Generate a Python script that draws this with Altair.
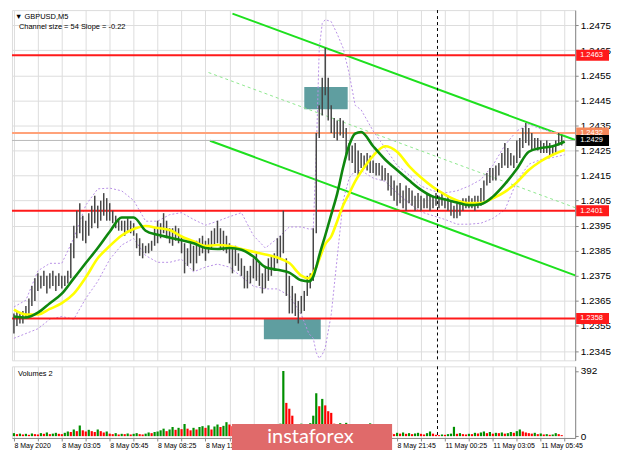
import altair as alt
import pandas as pd

# ---------------- data ----------------
# x = index of 5-minute bars counted from 8 May 2020 00:25 (one entry per two bars)
time_labels = ["8 May 2020", "8 May 03:05", "8 May 05:45", "8 May 08:25", "8 May 11:05",
               "8 May 13:45", "8 May 16:25", "8 May 19:05", "8 May 21:45",
               "11 May 00:25", "11 May 03:05", "11 May 05:45"]
# labels fully covered by the watermark in the picture
covered_labels = ["8 May 13:45", "8 May 16:25", "8 May 19:05"]
price_ticks = [1.2345, 1.2355, 1.2365, 1.2375, 1.2385, 1.2395, 1.2405,
               1.2415, 1.2425, 1.2435, 1.2445, 1.2455, 1.2465, 1.2475]

bar_high_pips = [
    12360, 12361, 12360, 12361, 12363, 12366, 12371, 12374, 12376, 12375,
    12377, 12375, 12376, 12377, 12375, 12376, 12375, 12375, 12377, 12388,
    12395, 12401, 12404, 12399, 12397, 12400, 12403, 12407, 12403, 12405,
    12408, 12406, 12404, 12401, 12399, 12398, 12397, 12397, 12398, 12397,
    12396, 12392, 12390, 12388, 12387, 12388, 12389, 12394, 12397, 12396,
    12400, 12397, 12394, 12394, 12395, 12394, 12391, 12388, 12386, 12388,
    12387, 12389, 12390, 12391, 12389, 12390, 12393, 12394, 12397, 12394,
    12393, 12391, 12388, 12386, 12387, 12384, 12382, 12379, 12377, 12379,
    12382, 12384, 12380, 12376, 12379, 12382, 12383, 12384, 12390, 12391,
    12401, 12382, 12375, 12371, 12368, 12365, 12367, 12369, 12375, 12376,
    12394, 12432, 12443, 12454, 12466, 12454, 12443, 12438, 12437, 12438,
    12437, 12434, 12428, 12427, 12428, 12425, 12424, 12423, 12424, 12423,
    12421, 12420, 12420, 12419, 12418, 12416, 12415, 12413, 12411, 12412,
    12409, 12411, 12410, 12409, 12407, 12408, 12407, 12406, 12408, 12407,
    12407, 12408, 12407, 12408, 12406, 12407, 12405, 12403, 12404, 12405,
    12406, 12406, 12407, 12406, 12407, 12407, 12410, 12413, 12416, 12418,
    12418, 12419, 12420, 12424, 12428, 12426, 12424, 12423, 12429, 12430,
    12434, 12436, 12434, 12432, 12430, 12430, 12429, 12428, 12429, 12428,
    12427, 12429, 12432, 12431]
bar_low_pips = [
    12352, 12355, 12356, 12356, 12358, 12359, 12363, 12365, 12369, 12370,
    12371, 12368, 12370, 12371, 12369, 12371, 12370, 12371, 12372, 12374,
    12382, 12390, 12392, 12389, 12388, 12391, 12394, 12396, 12394, 12397,
    12399, 12397, 12397, 12396, 12394, 12393, 12393, 12391, 12393, 12392,
    12391, 12386, 12383, 12382, 12384, 12384, 12385, 12387, 12388, 12390,
    12392, 12390, 12388, 12387, 12389, 12388, 12384, 12376, 12379, 12380,
    12377, 12380, 12383, 12384, 12381, 12384, 12386, 12387, 12388, 12386,
    12385, 12384, 12380, 12376, 12379, 12377, 12375, 12370, 12370, 12372,
    12374, 12373, 12371, 12368, 12370, 12373, 12375, 12377, 12380, 12382,
    12384, 12367, 12360, 12360, 12359, 12356, 12360, 12361, 12367, 12370,
    12373, 12392, 12430, 12439, 12447, 12437, 12432, 12430, 12429, 12431,
    12430, 12423, 12421, 12420, 12416, 12415, 12418, 12418, 12417, 12416,
    12416, 12415, 12415, 12413, 12413, 12409, 12407, 12405, 12403, 12404,
    12402, 12401, 12404, 12403, 12401, 12402, 12401, 12402, 12402, 12401,
    12402, 12403, 12402, 12403, 12402, 12401, 12399, 12398, 12398, 12399,
    12401, 12402, 12402, 12402, 12401, 12402, 12403, 12405, 12411, 12412,
    12413, 12413, 12415, 12418, 12419, 12418, 12419, 12418, 12420, 12422,
    12426, 12428, 12427, 12425, 12426, 12425, 12424, 12424, 12424, 12423,
    12423, 12424, 12427, 12427]
volume = [
    18, 12, 15, 10, 14, 8, 16, 12, 10, 18, 14, 22, 12, 15, 20, 14,
    12, 20, 28, 25, 40, 30, 64, 35, 28, 38, 30, 25, 40, 30, 22, 28,
    15, 12, 18, 10, 14, 12, 16, 10, 14, 18, 12, 10, 15, 22, 18, 25,
    28, 35, 45, 30, 40, 55, 38, 50, 42, 73, 45, 35, 50, 40, 55, 60,
    50, 65, 40, 58, 70, 55, 62, 84, 70, 60,
    50, 45, 55, 40, 48, 60, 45, 52, 70, 55, 73, 60, 50, 65, 58, 75,
    392, 200, 165, 123, 70, 65, 75, 70, 60, 78,
    123, 258, 180, 224, 185, 150, 140, 75, 60, 78,
    55, 80, 50, 45, 40, 48, 35, 42, 38, 77,
    35, 30, 28, 25, 22, 20,
    18, 12, 20, 15, 22, 14, 18, 12, 16, 20,
    14, 10, 18, 28, 15, 8, 6, 10, 8, 12,
    15, 56, 14, 18, 12, 10, 14, 12, 20, 16,
    22, 28, 18, 25, 15, 20, 18, 22, 15, 18,
    25, 20, 30, 40, 28, 22, 18, 15, 20, 12,
    16, 10, 12, 8, 10, 18, 12, 6]

ma_idx = [0, 8, 16, 24, 32, 40, 48, 56, 64, 72, 80, 88, 96, 104, 112, 120, 128, 136,
          144, 152, 160, 168, 176, 184, 192, 197, 200, 202, 204, 208, 212, 216, 220,
          224, 228, 232, 240, 248, 256, 264, 272, 280, 288, 296, 304, 312, 320, 328,
          336, 344, 352, 360, 368]
ma_green_pips = [
    12358.8, 12358.4, 12360.3, 12364.1, 12367.9, 12374.0, 12380.1, 12386.1, 12392.6,
    12398.3, 12398.3, 12393.0, 12391.4, 12390.3, 12389.2, 12388.0, 12386.1, 12385.7,
    12386.1, 12385.4, 12382.7, 12378.5, 12377.4, 12376.3, 12373.2,
    12372.8, 12374.7, 12378.5, 12383.1, 12391.1, 12399.4, 12407.8, 12418.4, 12427.1,
    12431.7, 12432.4,
    12426.7, 12421.4, 12417.2, 12413.1, 12409.3, 12406.6, 12405.5, 12404.3, 12403.2,
    12403.6, 12406.6, 12411.6, 12417.6, 12424.5, 12426.0, 12426.7, 12428.6]
ma_yellow_pips = [
    12361.5, 12359.6, 12359.6, 12361.8, 12364.1, 12367.9, 12374.4, 12382.0, 12386.9,
    12391.1, 12393.7, 12394.9, 12394.1, 12393.3, 12390.7, 12388.8, 12386.9, 12387.3,
    12386.9, 12385.7, 12384.6, 12383.5, 12382.3, 12380.1, 12375.1,
    12374.0, 12376.3, 12378.5, 12381.6, 12387.6, 12390.7, 12396.8, 12403.2, 12407.8,
    12412.7, 12416.5,
    12422.9, 12426.7, 12424.5, 12418.8, 12414.2, 12410.4, 12407.4, 12405.1, 12404.0,
    12404.0, 12405.9, 12408.5, 12412.3, 12417.2, 12420.7, 12423.3, 12425.2]

band_idx = [0, 8, 16, 24, 32, 40, 48, 56, 64, 72, 80, 88, 96, 104, 112, 120, 128, 136,
            144, 152, 160, 168, 176, 184, 192, 197, 200, 202, 204, 206, 208, 212, 216,
            220, 224, 228, 232, 240, 248, 256, 264, 272, 280, 288, 296, 304, 312, 320,
            328, 336, 344, 352, 360, 368]
band_upper_pips = [
    12362.6, 12365.3, 12377.0, 12380.0, 12380.0, 12390.0, 12403.2, 12409.7, 12410.0,
    12408.9, 12405.1, 12396.8, 12396.8, 12399.4, 12400.2, 12397.5, 12395.2, 12396.8,
    12398.6, 12400.2, 12391.1, 12386.1, 12389.9, 12394.5, 12394.5,
    12393.7, 12393.7, 12424.1, 12465.8, 12475.7, 12477.2, 12476.4, 12471.5, 12465.8,
    12455.6, 12443.0, 12441.2,
    12432.8, 12426.0, 12419.1, 12415.3, 12410.8, 12408.9, 12408.1, 12408.9, 12410.8,
    12413.4, 12419.1, 12427.1, 12432.8, 12435.5, 12433.6, 12432.4, 12431.7]
band_lower_pips = [
    12350.1, 12352.0, 12353.9, 12357.7, 12358.8, 12357.7, 12366.0, 12372.8, 12381.6,
    12387.3, 12389.9, 12383.1, 12380.4, 12380.4, 12381.6, 12376.6, 12378.5, 12379.7,
    12378.5, 12374.7, 12370.9, 12369.8, 12369.8, 12367.1, 12359.6,
    12352.0, 12350.1, 12344.4, 12342.1, 12343.6, 12346.3, 12359.6, 12382.3, 12405.1,
    12414.0, 12417.0, 12417.0,
    12414.0, 12412.7, 12408.1, 12404.0, 12400.5, 12399.0, 12397.5, 12395.6, 12395.6,
    12396.0, 12397.9, 12401.3, 12412.7, 12419.5, 12421.4, 12422.2, 12423.3]

# regression channel (size 54, slope -0.22): start / end points
channel_upper = {"idx": [146, 375], "price": [1.24796, 1.24292]}
channel_mid = {"idx": [130, 375], "price": [1.24561, 1.24022]}
channel_lower = {"idx": [131, 375], "price": [1.24289, 1.23752]}

# highlighted zones
zone_idx0 = [194, 167]
zone_idx1 = [223, 205]
zone_p0 = [1.24415, 1.23497]
zone_p1 = [1.24503, 1.23580]

# horizontal levels
level_price = [1.2463, 1.2401, 1.2358, 1.2432, 1.2429]
level_color = ["#ff1a1a", "#ff1a1a", "#ff1a1a", "#ffa27a", "#b8b8b8"]
level_width = [2, 2, 2, 2, 1]

# price tags on the right axis
tag_label = ["1.2463", "1.2432", "1.2429", "1.2401", "1.2358"]
tag_price = [1.2463, 1.2432, 1.2429, 1.2401, 1.2358]
tag_color = ["#ff1a1a", "#f5875a", "#000000", "#ff1a1a", "#ff1a1a"]

day_separator_idx = [283]

# ---------------- chart ----------------
W, H, VH = 566, 352, 72
FONT = "Liberation Sans"

n = len(bar_high_pips)
cdf = pd.DataFrame({
    "idx": [2 * k for k in range(n)],
    "high": [v / 10000 for v in bar_high_pips],
    "low": [v / 10000 for v in bar_low_pips],
})
vdf = pd.DataFrame({
    "idx": [2 * k for k in range(len(volume))],
    "vol": volume,
    "dir": ["up" if k == 0 or volume[k] >= volume[k - 1] else "down" for k in range(len(volume))],
    "zero": [0] * len(volume),
})
ma_df = pd.DataFrame({"idx": ma_idx,
                      "green": [v / 10000 for v in ma_green_pips],
                      "yellow": [v / 10000 for v in ma_yellow_pips]})
band_df = pd.DataFrame({"idx": band_idx,
                        "upper": [v / 10000 for v in band_upper_pips],
                        "lower": [v / 10000 for v in band_lower_pips]})
zones_df = pd.DataFrame({"x0": zone_idx0, "x1": zone_idx1, "p0": zone_p0, "p1": zone_p1})
levels_df = pd.DataFrame({"price": level_price, "col": level_color, "w": level_width})
tags_df = pd.DataFrame({"label": tag_label, "price": tag_price, "col": tag_color,
                        "top": [p + 0.00022 for p in tag_price],
                        "bot": [p - 0.00022 for p in tag_price]})
sep_df = pd.DataFrame({"idx": day_separator_idx})

xscale = alt.Scale(domain=[-1.3, 375], nice=False, zero=False)
yscale = alt.Scale(domain=[1.23413, 1.24810], nice=False, zero=False)
grid_idx = list(range(0, 369, 16))

x_axis_main = alt.Axis(values=grid_idx, labels=False, ticks=False, domain=False,
                       grid=True, title=None)
y_axis_main = alt.Axis(orient="right", values=price_ticks, format=".4f", tickSize=3,
                       labelPadding=2, grid=True, title=None)


def X(f):
    return alt.X(f, type="quantitative", scale=xscale, axis=x_axis_main, title=None)


def Y(f):
    return alt.Y(f, type="quantitative", scale=yscale, axis=y_axis_main, title=None)


zones = alt.Chart(zones_df).mark_rect(color="#5f9ea0").encode(
    x=X("x0"), x2=alt.X2("x1"), y=Y("p0"), y2=alt.Y2("p1"))


def chan(d, dash=None, color="#1ee01e", w=2):
    kw = dict(color=color, strokeWidth=w, clip=True)
    if dash:
        kw["strokeDash"] = dash
    return alt.Chart(pd.DataFrame(d)).mark_line(**kw).encode(x=X("idx"), y=Y("price"))


ch_up = chan(channel_upper)
ch_mid = chan(channel_mid, dash=[3, 3], color="#8ee88e", w=1)
ch_lo = chan(channel_lower)

band_up = alt.Chart(band_df).mark_line(color="#b891e6", strokeWidth=1, strokeDash=[2, 2],
                                       clip=True).encode(x=X("idx"), y=Y("upper"))
band_lo = alt.Chart(band_df).mark_line(color="#b891e6", strokeWidth=1, strokeDash=[2, 2],
                                       clip=True).encode(x=X("idx"), y=Y("lower"))

levels = alt.Chart(levels_df).mark_rule().encode(
    y=Y("price"), color=alt.Color("col:N", scale=None),
    strokeWidth=alt.StrokeWidth("w:Q", scale=None))

candles = alt.Chart(cdf).mark_rule(color="#474747", strokeWidth=1.5).encode(
    x=X("idx"), y=Y("low"), y2=alt.Y2("high"))

yellow = alt.Chart(ma_df).mark_line(color="#ffff00", strokeWidth=2.6, interpolate="monotone").encode(
    x=X("idx"), y=Y("yellow"))
green = alt.Chart(ma_df).mark_line(color="#0e870e", strokeWidth=2.6, interpolate="monotone").encode(
    x=X("idx"), y=Y("green"))

sep_main = alt.Chart(sep_df).mark_rule(color="#000000", strokeDash=[3, 3], strokeWidth=1).encode(
    x=X("idx"))

tag_boxes = alt.Chart(tags_df).mark_rect().encode(
    x=alt.value(W + 1), x2=alt.value(W + 34), y=Y("top"), y2=alt.Y2("bot"),
    color=alt.Color("col:N", scale=None))
tag_text = alt.Chart(tags_df).mark_text(align="left", baseline="middle", fontSize=7.5,
                                        font=FONT, color="#ffffff").encode(
    x=alt.value(W + 5), y=Y("price"), text="label:N")

hdr1 = alt.Chart(pd.DataFrame({"t": ["\u25bc GBPUSD,M5"]})).mark_text(
    align="left", baseline="middle", fontSize=7.5, font=FONT, color="#000000").encode(
    x=alt.value(3), y=alt.value(7), text="t:N")
hdr2 = alt.Chart(pd.DataFrame({"t": ["Channel size = 54 Slope = -0.22"]})).mark_text(
    align="left", baseline="middle", fontSize=7.5, font=FONT, color="#000000").encode(
    x=alt.value(7), y=alt.value(17), text="t:N")

main = alt.layer(zones, ch_up, ch_mid, ch_lo, band_up, band_lo, levels, candles,
                 yellow, green, sep_main, tag_boxes, tag_text, hdr1, hdr2).properties(
    width=W, height=H)

# ---- volume panel ----
shown_labels = ["" if s in covered_labels else s for s in time_labels]
label_arr = "[" + ",".join("'" + s + "'" for s in shown_labels) + "]"
label_expr = "datum.value % 32 == 0 ? " + label_arr + "[datum.value / 32] : ''"
x_axis_vol = alt.Axis(values=grid_idx, labelExpr=label_expr, labelAlign="left",
                      labelPadding=1, tickSize=3, grid=True, domain=True,
                      labelOverlap=False, labelFlush=False, labelFontSize=7,
                      title=None)
vscale = alt.Scale(domain=[-11, 420], nice=False, zero=False)
y_axis_vol = alt.Axis(orient="right", values=[0, 392], tickSize=3, labelPadding=2,
                      grid=False, title=None)

vbars = alt.Chart(vdf).mark_rule(strokeWidth=2.2).encode(
    x=alt.X("idx:Q", scale=xscale, axis=x_axis_vol, title=None),
    y=alt.Y("vol:Q", scale=vscale, axis=y_axis_vol, title=None),
    y2=alt.Y2("zero"),
    color=alt.Color("dir:N", scale=alt.Scale(domain=["up", "down"],
                                             range=["#008f00", "#ff0000"]), legend=None))
sep_vol = alt.Chart(sep_df).mark_rule(color="#000000", strokeDash=[3, 3], strokeWidth=1).encode(
    x=alt.X("idx:Q", scale=xscale, axis=x_axis_vol, title=None))
vol_title = alt.Chart(pd.DataFrame({"t": ["Volumes 2"]})).mark_text(
    align="left", baseline="middle", fontSize=7.5, font=FONT, color="#000000").encode(
    x=alt.value(6), y=alt.value(8), text="t:N")
wm_box = alt.Chart(pd.DataFrame({"t": ["instaforex"]})).mark_rect(color="#e06a6a").encode(
    x=alt.value(221), x2=alt.value(382), y=alt.value(58), y2=alt.value(84))
wm_text = alt.Chart(pd.DataFrame({"t": ["instaforex"]})).mark_text(
    align="center", baseline="middle", fontSize=20, font="Lato", color="#ffffff").encode(
    x=alt.value(300), y=alt.value(71), text="t:N")

vol = alt.layer(vbars, sep_vol, vol_title, wm_box, wm_text).properties(width=W, height=VH)

chart = alt.vconcat(main, vol, spacing=4).resolve_scale(
    x="independent", y="independent").properties(padding=0).configure_view(
    stroke="#777777", strokeWidth=1).configure_axis(
    gridColor="#c4c4c4", gridDash=[3, 3], gridWidth=1, labelFont=FONT, labelFontSize=7.5,
    labelColor="#000000", tickColor="#000000", domainColor="#000000").configure(
    background="#ffffff")

chart.save("out.html", embed_options={"renderer": "svg", "actions": False})
